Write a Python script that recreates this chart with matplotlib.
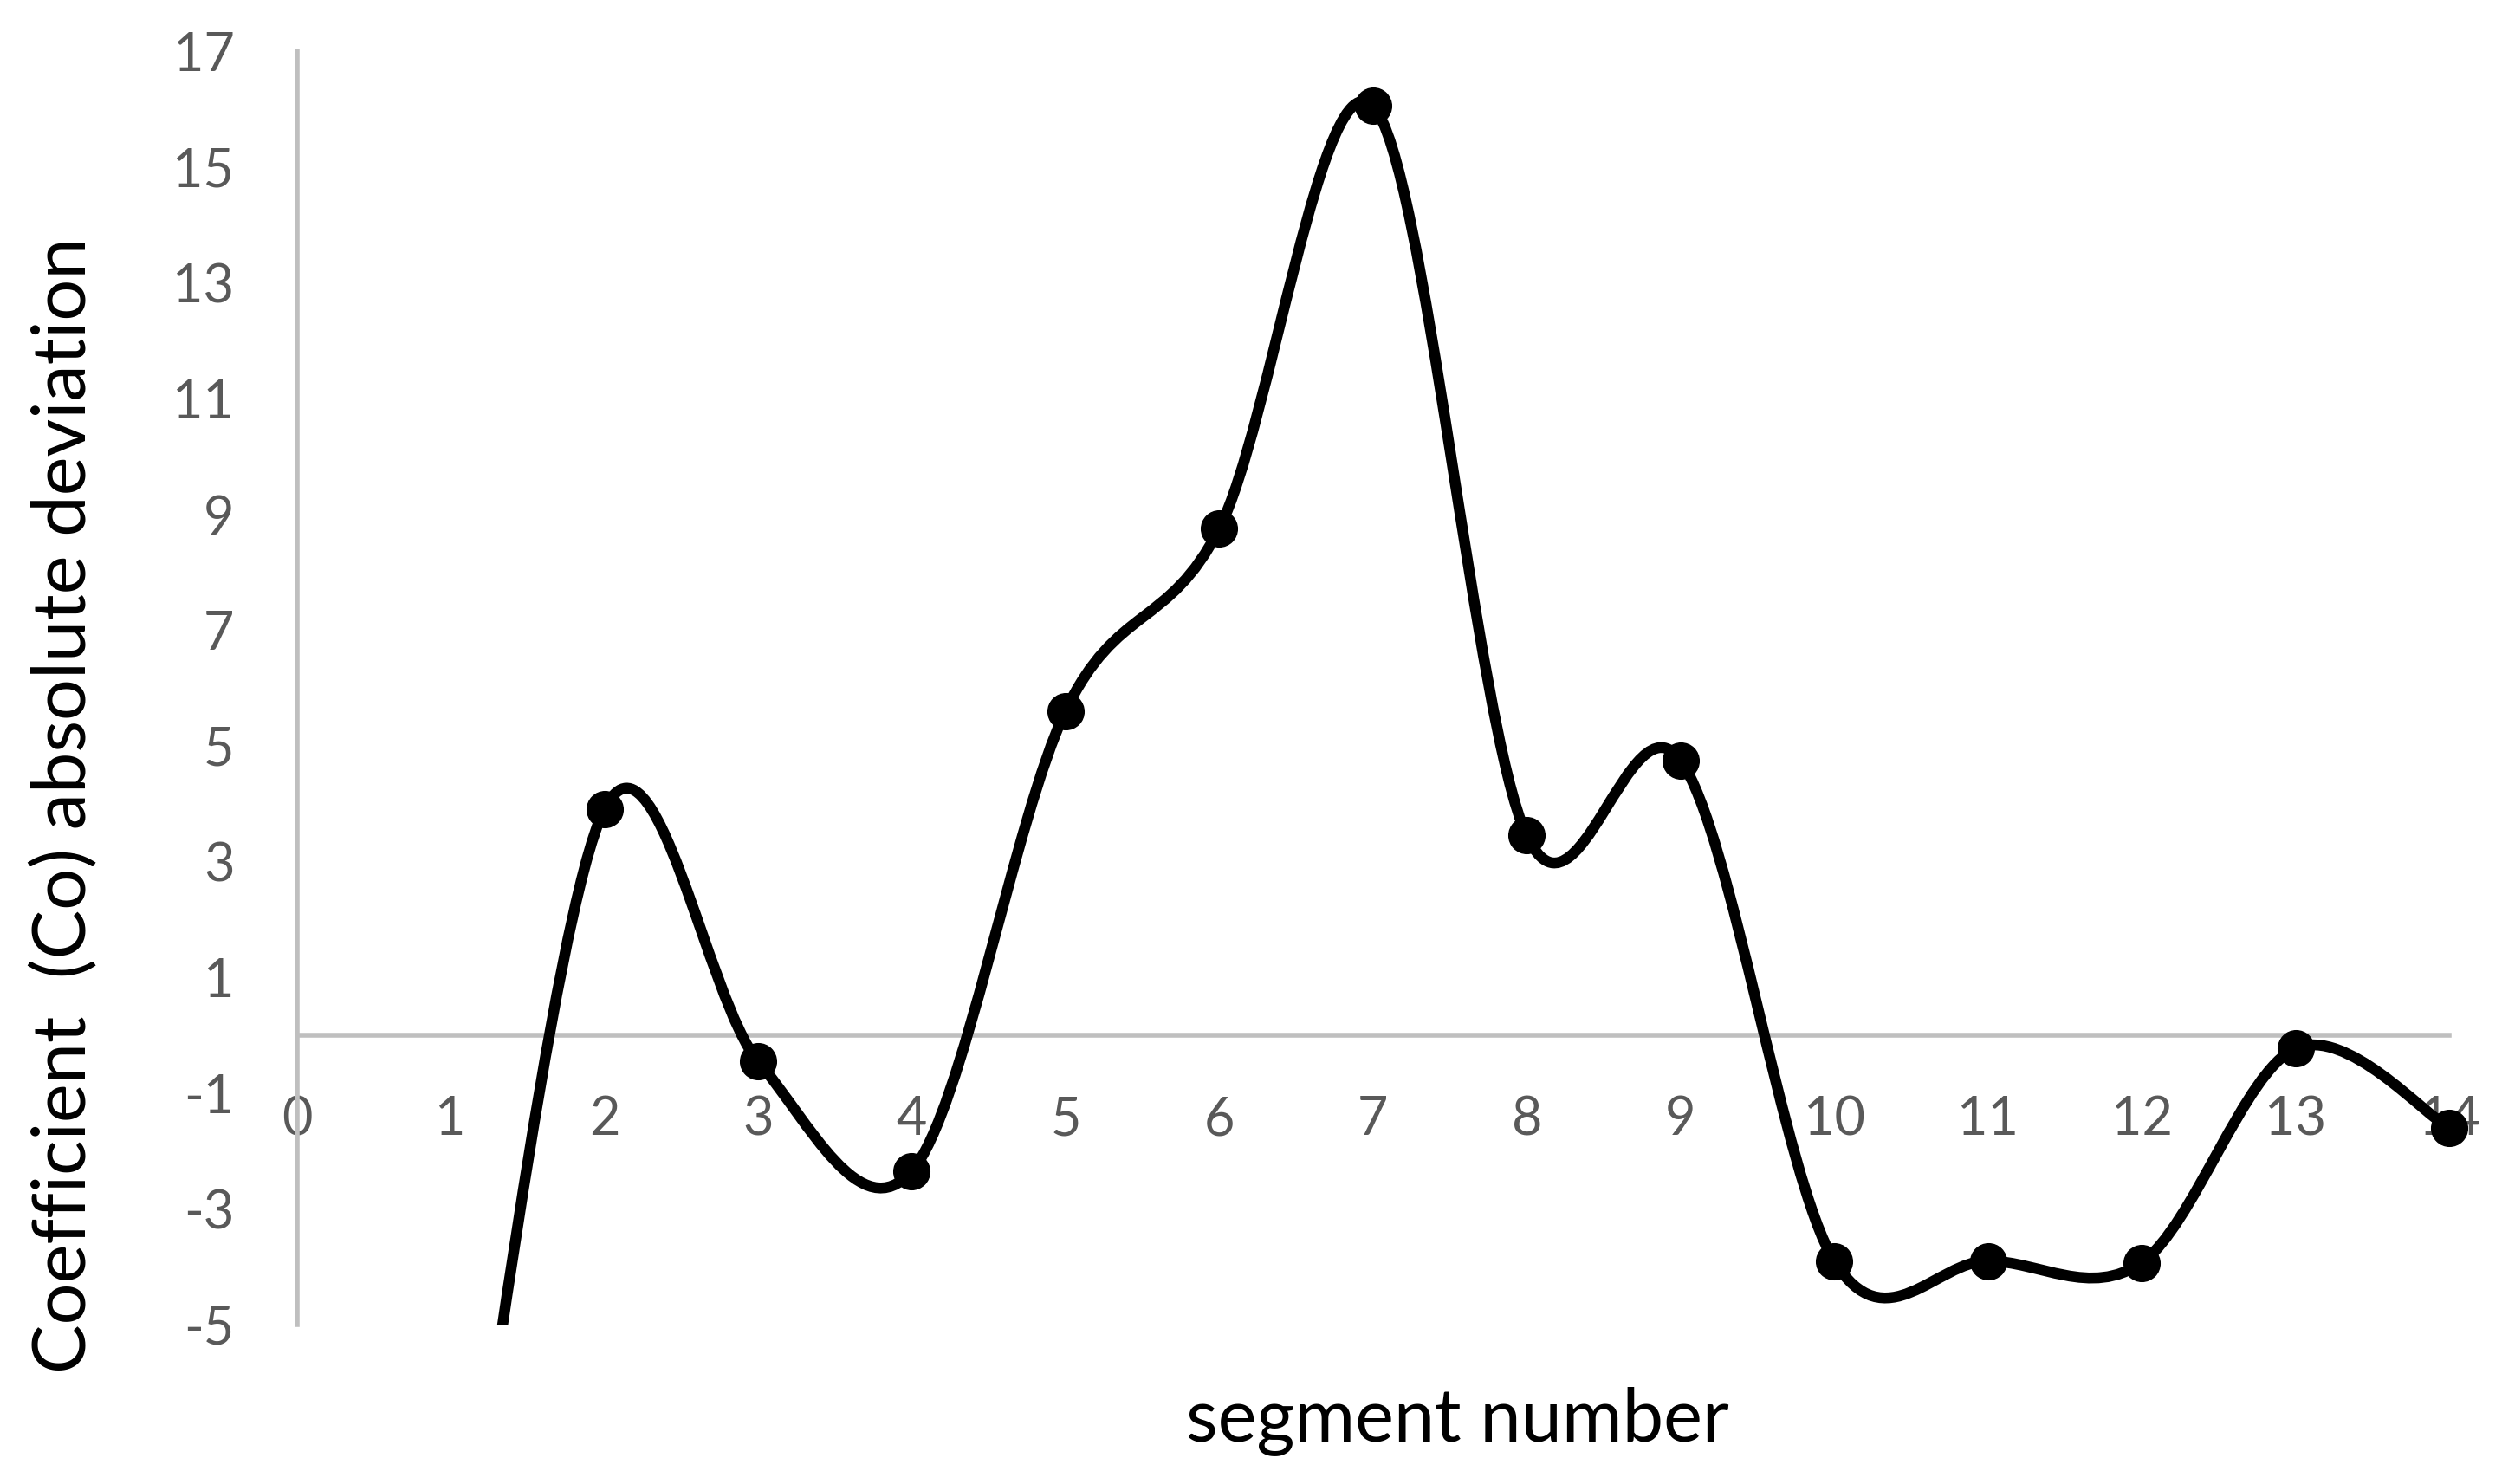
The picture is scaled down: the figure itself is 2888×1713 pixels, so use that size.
import numpy as np
import matplotlib
matplotlib.use("Agg")
import matplotlib.pyplot as plt
from matplotlib.path import Path
from matplotlib.patches import PathPatch

plt.rcParams['font.family'] = ['Lato', 'DejaVu Sans']

# data
segments = [1, 2, 3, 4, 5, 6, 7, 8, 9, 10, 11, 12, 13, 14]
deviation = [-11.0, 3.9, -0.45, -2.35, 5.6, 8.75, 16.05, 3.45, 4.75, -3.9, -3.9, -3.93, -0.23, -1.6]
x_ticks = list(range(0, 15))
y_ticks = list(range(-5, 18, 2))

W, H = 2888, 1713
fig = plt.figure(figsize=(W / 100, H / 100), dpi=100)
x0_px, x14_px = 342.6, 2827.0
unit = (x14_px - x0_px) / 14
xmax = 14.25
left = x0_px / W
right = (x0_px + xmax * unit) / W
bottom = 1 - 1529 / H
top = 1 - 59 / H
ax = fig.add_axes([left, bottom, right - left, top - bottom])
ax.set_xlim(0, xmax)
ax.set_ylim(-5, 17)


def smooth_path(xs, ys, f=1.0 / 6):
    pts = np.column_stack([xs, ys]).astype(float)
    n = len(pts)
    verts = [pts[0]]
    codes = [Path.MOVETO]
    for i in range(n - 1):
        p_prev = pts[i - 1] if i > 0 else pts[i]
        p0 = pts[i]
        p1 = pts[i + 1]
        p_next = pts[i + 2] if i + 2 < n else pts[i + 1]
        c1 = p0 + (p1 - p_prev) * f
        c2 = p1 - (p_next - p0) * f
        verts += [c1, c2, p1]
        codes += [Path.CURVE4] * 3
    return Path(verts, codes)


path = smooth_path(segments, deviation)
patch = PathPatch(path, facecolor='none', edgecolor='black', lw=9, capstyle='butt', zorder=3)
ax.add_patch(patch)
ax.plot(segments, deviation, linestyle='none', marker='o', markersize=30,
        color='black', zorder=4)

# axes styling
for s in ['top', 'right']:
    ax.spines[s].set_visible(False)
gray = '#BFBFBF'
ax.spines['left'].set_color(gray)
ax.spines['left'].set_linewidth(4)
ax.spines['bottom'].set_color(gray)
ax.spines['bottom'].set_linewidth(4)
ax.spines['bottom'].set_position(('data', 0))
ax.spines['bottom'].set_bounds(0, 14)
ax.set_xticks(x_ticks)
ax.set_yticks(y_ticks)
ax.set_xticklabels([str(v) for v in x_ticks])
ax.set_yticklabels([str(v) for v in y_ticks])
ax.tick_params(axis='both', length=0, labelsize=44, labelcolor='#595959')
ax.tick_params(axis='x', pad=50)
ax.tick_params(axis='y', pad=52)
for lbl in ax.get_xticklabels() + ax.get_yticklabels():
    lbl.set_zorder(5)

fig.text(74 / W, 1 - 930 / H, 'Coefficient  (Co) absolute deviation', rotation=90,
         ha='center', va='center', fontsize=61, color='black')
fig.text(1682 / W, 1 - 1640 / H, 'segment number', ha='center', va='center',
         fontsize=61, color='black')

fig.savefig('out.png', dpi=100)
